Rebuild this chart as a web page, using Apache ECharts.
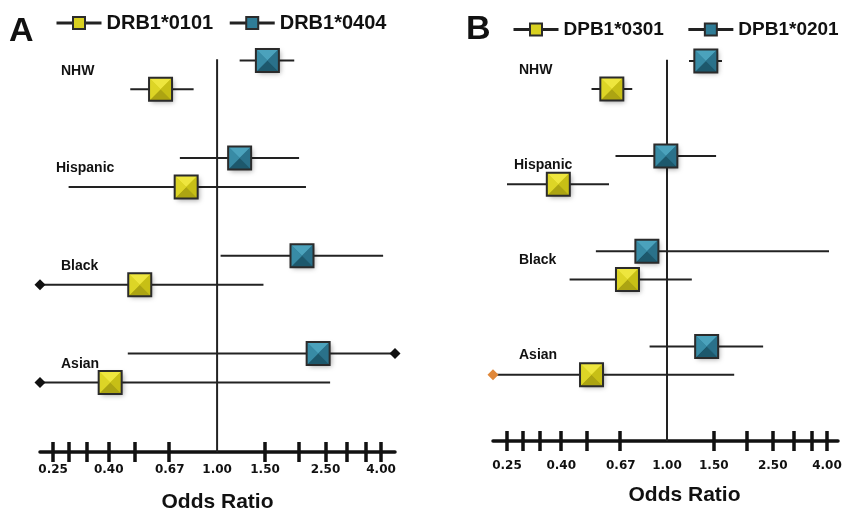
<!DOCTYPE html>
<html>
<head>
<meta charset="utf-8">
<script src="https://cdn.jsdelivr.net/npm/echarts@6/dist/echarts.min.js"></script>
<style>
html, body { margin: 0; padding: 0; background: #fff; }
#main { width: 846px; height: 511px; }
</style>
</head>
<body>
<div id="main"></div>
<script>
// groups and axis ticks (odds ratio)
var groups = ['NHW', 'Hispanic', 'Black', 'Asian'];
var tickValues = [0.25, 1 / 3.5, 1 / 3, 0.4, 0.5, 1 / 1.5, 1.5, 2, 2.5, 3, 3.5, 4];
var tickLabels = ['0.25', '0.40', '0.67', '1.00', '1.50', '2.50', '4.00'];

// panel A : DRB1
var allelesA = ['DRB1*0101', 'DRB1*0404'];
var drb0101Or = [0.62, 0.77, 0.52, 0.405];
var drb0101Lo = [0.48, 0.285, 0.20, 0.20];
var drb0101Hi = [0.82, 2.12, 1.48, 2.60];
var drb0404Or = [1.53, 1.21, 2.05, 2.35];
var drb0404Lo = [1.21, 0.73, 1.03, 0.47];
var drb0404Hi = [1.92, 2.00, 4.07, 5.00];

// panel B : DPB1
var allelesB = ['DPB1*0301', 'DPB1*0201'];
var dpb0301Or = [0.62, 0.39, 0.71, 0.52];
var dpb0301Lo = [0.52, 0.25, 0.43, 0.20];
var dpb0301Hi = [0.74, 0.605, 1.24, 1.79];
var dpb0201Or = [1.40, 0.99, 0.84, 1.41];
var dpb0201Lo = [1.21, 0.64, 0.54, 0.86];
var dpb0201Hi = [1.61, 1.53, 4.07, 2.30];

var log2 = function (v) { return Math.log(v) / Math.LN2; };

var yellow = { top: '#eee63e', left: '#ddd526', right: '#c7bf16', bottom: '#aca412', flat: '#d8d020' };
var teal = { top: '#4ba2bc', left: '#388ba5', right: '#2a718a', bottom: '#1d586c', flat: '#2f7c96' };

var panels = [
    {
        letter: 'A', letterX: 9, letterY: 32,
        grid: { left: 40, width: 355, top: 26, height: 426, outerBoundsMode: 'none' },
        xMin: -2.16, xMax: 2.17, yMax: 3.86,
        labelMargin: 12, nameGap: 40, namePad: 0,
        legendLeft: 55, legendTop: 13, legendGap: 15, legendFont: 20,
        arrow: '#111', labelX: 61, labelDy: -4,
        alleles: allelesA,
        data: [[drb0101Or, drb0101Lo, drb0101Hi], [drb0404Or, drb0404Lo, drb0404Hi]]
    },
    {
        letter: 'B', letterX: 466, letterY: 30,
        grid: { left: 493, width: 345, top: 27.4, height: 413.6, outerBoundsMode: 'none' },
        xMin: -2.175, xMax: 2.1375, yMax: 3.845,
        labelMargin: 19, nameGap: 44, namePad: 38,
        legendLeft: 512, legendTop: 20, legendGap: 23, legendFont: 19,
        arrow: '#e0883a', labelX: 519, labelDy: -5,
        alleles: allelesB,
        data: [[dpb0301Or, dpb0301Lo, dpb0301Hi], [dpb0201Or, dpb0201Lo, dpb0201Hi]]
    }
];

var rowOffset = [0.148, -0.148];   // yellow below, teal above group centre
var colours = [yellow, teal];

function forestItem(panel, c) {
    return function (params, api) {
        var est = api.value(0), lo = api.value(1), hi = api.value(2), y = api.value(3);
        var p0 = api.coord([Math.max(lo, panel.xMin), y]);
        var p1 = api.coord([Math.min(hi, panel.xMax), y]);
        var pc = api.coord([est, y]);
        var kids = [{
            type: 'line',
            shape: { x1: p0[0], y1: p0[1], x2: p1[0], y2: p1[1] },
            style: { stroke: '#222', lineWidth: 2 }
        }];
        // diamonds where the interval runs off the axis
        [[lo < panel.xMin, p0], [hi > panel.xMax, p1]].forEach(function (d) {
            if (!d[0]) return;
            var x = d[1][0], yy = d[1][1], r = 5.5;
            kids.push({
                type: 'polygon',
                shape: { points: [[x - r, yy], [x, yy - r], [x + r, yy], [x, yy + r]] },
                style: { fill: panel.arrow }
            });
        });
        var h = 11.5, cx = pc[0], cy = pc[1];
        var tl = [cx - h, cy - h], tr = [cx + h, cy - h], br = [cx + h, cy + h], bl = [cx - h, cy + h], m = [cx, cy];
        kids.push({
            type: 'rect', shape: { x: cx - h, y: cy - h, width: 2 * h, height: 2 * h },
            style: { fill: c.flat, shadowBlur: 5, shadowColor: 'rgba(0,0,0,0.35)', shadowOffsetX: 2, shadowOffsetY: 2 }
        });
        kids.push({ type: 'polygon', shape: { points: [tl, tr, m] }, style: { fill: c.top } });
        kids.push({ type: 'polygon', shape: { points: [tr, br, m] }, style: { fill: c.right } });
        kids.push({ type: 'polygon', shape: { points: [br, bl, m] }, style: { fill: c.bottom } });
        kids.push({ type: 'polygon', shape: { points: [bl, tl, m] }, style: { fill: c.left } });
        kids.push({
            type: 'rect', shape: { x: cx - h, y: cy - h, width: 2 * h, height: 2 * h },
            style: { fill: null, stroke: '#2b2b2b', lineWidth: 2 }
        });
        return { type: 'group', children: kids };
    };
}

var grid = [], xAxis = [], yAxis = [], legend = [], series = [];

panels.forEach(function (p, pi) {
    grid.push(p.grid);
    var xBase = {
        type: 'value', gridIndex: pi, min: p.xMin, max: p.xMax, position: 'bottom',
        splitLine: { show: false }
    };
    // axis line, labels and name
    xAxis.push(Object.assign({}, xBase, {
        name: 'Odds Ratio', nameLocation: 'middle', nameGap: p.nameGap,
        nameTextStyle: { fontSize: 21, fontWeight: 'bold', color: '#111', padding: [0, 0, 0, p.namePad] },
        axisLine: { show: true, onZero: false, lineStyle: { color: '#111', width: 3.5 } },
        axisTick: { show: false },
        axisLabel: {
            margin: p.labelMargin, fontFamily: 'DejaVu Sans', fontSize: 12, fontWeight: 'bold', color: '#111',
            customValues: tickLabels.map(function (s) { return log2(+s); }),
            formatter: function (v) { return Math.pow(2, v).toFixed(2); }
        }
    }));
    // ticks crossing the axis line
    xAxis.push(Object.assign({}, xBase, {
        offset: 10,
        axisLine: { show: false, onZero: false },
        axisTick: { show: true, inside: true, length: 20, lineStyle: { color: '#111', width: 3.5 },
            customValues: tickValues.map(log2) },
        axisLabel: { show: false }
    }));
    yAxis.push({ type: 'value', gridIndex: pi, inverse: true, min: -0.5, max: p.yMax, show: false });

    legend.push({
        data: p.alleles, left: p.legendLeft, top: p.legendTop, padding: 0,
        itemWidth: 45, itemHeight: 15, itemGap: p.legendGap, selectedMode: false,
        lineStyle: { width: 3 },
        textStyle: { fontSize: p.legendFont, fontWeight: 'bold', color: '#111' }
    });

    // reference line at OR = 1
    series.push({
        type: 'line', xAxisIndex: pi * 2, yAxisIndex: pi, silent: true, symbol: 'none',
        data: [[log2(1), -0.16], [log2(1), p.yMax]],
        lineStyle: { color: '#222', width: 2 }, z: 1
    });

    p.alleles.forEach(function (name, ai) {
        var d = p.data[ai];
        var rows = groups.map(function (g, gi) {
            return [log2(d[0][gi]), log2(d[1][gi]), log2(d[2][gi]), gi + rowOffset[ai]];
        });
        series.push({
            type: 'custom', name: name + ' CI', xAxisIndex: pi * 2, yAxisIndex: pi,
            renderItem: forestItem(p, colours[ai]),
            encode: { x: [0, 1, 2], y: 3 }, data: rows, z: 3, silent: true
        });
        // legend-only series
        series.push({
            type: 'line', name: name, xAxisIndex: pi * 2, yAxisIndex: pi, data: [],
            symbol: 'rect', lineStyle: { color: '#222', width: 3 },
            itemStyle: { color: colours[ai].flat, borderColor: '#2b2b2b', borderWidth: 1.5 }
        });
    });
});

var chart = echarts.init(document.getElementById('main'));
chart.setOption({
    animation: false,
    textStyle: { fontFamily: 'Liberation Sans' },
    grid: grid, xAxis: xAxis, yAxis: yAxis, legend: legend, series: series
});

// panel letters and group labels
var graphics = [];
panels.forEach(function (p, pi) {
    graphics.push({
        type: 'text', left: p.letterX, top: p.letterY - 17,
        style: { text: p.letter, font: 'bold 34px "Liberation Sans"', fill: '#111' }
    });
    groups.forEach(function (g, gi) {
        var y = chart.convertToPixel({ yAxisIndex: pi }, gi);
        graphics.push({
            type: 'text', x: p.labelX - (g === 'Hispanic' ? 5 : 0), y: y + p.labelDy,
            style: { text: g, font: 'bold 14px "Liberation Sans"', fill: '#111', verticalAlign: 'middle' }
        });
    });
});
chart.setOption({ graphic: graphics });
</script>
</body>
</html>
